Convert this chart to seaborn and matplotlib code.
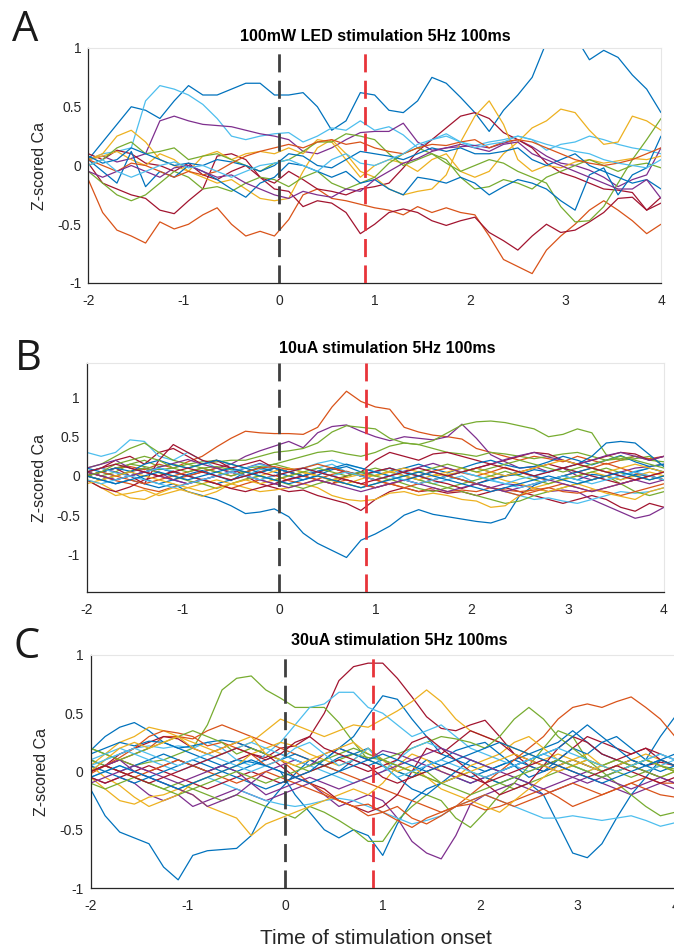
import numpy as np
import pandas as pd
import matplotlib
matplotlib.use("Agg")
import matplotlib.pyplot as plt
import seaborn as sns

# ---------------- data ----------------
TIME = [-2.0, -1.85, -1.7, -1.55, -1.4, -1.25, -1.1, -0.95, -0.8, -0.65, -0.5,
        -0.35, -0.2, -0.05, 0.1, 0.25, 0.4, 0.55, 0.7, 0.85, 1.0, 1.15, 1.3,
        1.45, 1.6, 1.75, 1.9, 2.05, 2.2, 2.35, 2.5, 2.65, 2.8, 2.95, 3.1, 3.25,
        3.4, 3.55, 3.7, 3.85, 4.0]
XTICKS = [-2, -1, 0, 1, 2, 3, 4]
YTICKS = [-1, -0.5, 0, 0.5, 1]
YTICKLABELS = ["-1", "-0.5", "0", "0.5", "1"]
STIM_ONSET = 0.0
STIM_END = 0.9
TITLES = ["100mW LED stimulation 5Hz 100ms", "10uA stimulation 5Hz 100ms",
          "30uA stimulation 5Hz 100ms"]
PANEL_LETTERS = ["A", "B", "C"]

# Panel A traces
A1 = [0.05, 0.2, 0.35, 0.5, 0.47, 0.4, 0.55, 0.68, 0.6, 0.6, 0.65, 0.7, 0.7, 0.6, 0.6, 0.62, 0.5, 0.3, 0.38, 0.62, 0.6, 0.47, 0.45, 0.55, 0.75, 0.7, 0.58, 0.45, 0.29, 0.47, 0.6, 0.75, 1.05, 1.25, 1.1, 0.9, 0.98, 0.92, 0.77, 0.65, 0.45]
A2 = [0.05, 0.1, 0.12, 0.15, 0.55, 0.68, 0.65, 0.6, 0.52, 0.4, 0.25, 0.22, 0.25, 0.27, 0.28, 0.2, 0.25, 0.32, 0.3, 0.38, 0.3, 0.33, 0.26, 0.15, 0.22, 0.27, 0.2, 0.17, 0.2, 0.22, 0.25, 0.22, 0.13, 0.18, 0.2, 0.25, 0.22, 0.18, 0.15, 0.13, 0.1]
A3 = [0.05, 0.08, 0.03, 0.06, 0.1, 0.38, 0.42, 0.38, 0.35, 0.34, 0.33, 0.3, 0.27, 0.25, 0.22, 0.12, 0.1, 0.15, 0.22, 0.28, 0.29, 0.29, 0.36, 0.2, 0.13, 0.15, 0.16, 0.17, 0.15, 0.19, 0.22, 0.16, 0.08, 0.02, 0.0, -0.04, -0.1, -0.18, -0.12, -0.08, 0.15]
A4 = [-0.12, -0.4, -0.55, -0.6, -0.66, -0.48, -0.54, -0.5, -0.42, -0.36, -0.5, -0.6, -0.56, -0.6, -0.46, -0.25, -0.2, -0.28, -0.3, -0.33, -0.36, -0.38, -0.42, -0.35, -0.4, -0.36, -0.4, -0.42, -0.6, -0.8, -0.86, -0.92, -0.72, -0.6, -0.5, -0.38, -0.3, -0.38, -0.47, -0.58, -0.5]
A5 = [0.02, -0.15, -0.2, -0.25, -0.28, -0.38, -0.41, -0.3, -0.2, 0.08, 0.1, 0.05, -0.1, -0.2, -0.22, -0.35, -0.3, -0.32, -0.4, -0.58, -0.5, -0.4, -0.37, -0.4, -0.47, -0.51, -0.47, -0.44, -0.57, -0.64, -0.72, -0.6, -0.5, -0.57, -0.55, -0.48, -0.4, -0.28, -0.27, -0.38, -0.32]
A6 = [0.1, 0.05, 0.13, 0.1, 0.02, 0.0, -0.05, 0.02, -0.08, -0.12, -0.05, 0.0, -0.1, -0.15, -0.05, -0.12, -0.2, -0.22, -0.25, -0.2, -0.18, -0.15, -0.02, 0.12, 0.22, 0.32, 0.42, 0.45, 0.4, 0.28, 0.22, 0.15, 0.02, -0.06, -0.1, -0.15, -0.2, -0.21, -0.23, -0.38, -0.27]
A7 = [0.05, 0.1, 0.25, 0.3, 0.2, 0.05, 0.0, -0.05, -0.1, -0.15, -0.12, -0.2, -0.28, -0.3, -0.28, -0.05, 0.15, 0.22, 0.1, -0.05, -0.1, -0.2, -0.25, -0.22, -0.2, -0.08, 0.2, 0.42, 0.55, 0.35, 0.05, -0.05, 0.0, -0.02, 0.03, 0.05, 0.02, 0.04, 0.06, 0.05, 0.08]
A8 = [0.05, 0.08, 0.12, 0.05, 0.0, 0.1, 0.05, -0.05, 0.08, 0.12, 0.05, 0.1, 0.12, 0.1, 0.15, 0.1, 0.22, 0.2, 0.05, -0.1, 0.0, 0.05, 0.02, -0.05, 0.05, 0.1, -0.05, -0.1, -0.05, 0.1, 0.2, 0.32, 0.38, 0.48, 0.45, 0.3, 0.18, 0.2, 0.42, 0.38, 0.3]
A9 = [0.0, 0.05, 0.15, 0.2, 0.1, 0.12, 0.15, 0.05, 0.08, 0.1, 0.05, 0.0, -0.05, 0.02, 0.05, 0.12, 0.2, 0.2, 0.27, 0.25, 0.22, 0.1, 0.0, 0.05, 0.1, 0.02, -0.05, 0.0, 0.05, 0.02, -0.05, -0.1, -0.15, -0.35, -0.48, -0.47, -0.35, -0.15, 0.05, 0.22, 0.4]
A10 = [-0.05, -0.15, -0.25, -0.3, -0.25, -0.15, -0.05, -0.1, -0.2, -0.18, -0.22, -0.15, -0.1, -0.12, -0.18, -0.1, -0.05, -0.15, -0.2, -0.15, -0.1, 0.02, 0.1, 0.15, 0.1, 0.05, -0.1, -0.2, -0.18, -0.12, -0.15, -0.2, -0.1, -0.05, 0.0, 0.05, 0.0, -0.05, 0.0, 0.02, -0.02]
A11 = [0.05, -0.05, -0.15, 0.12, -0.18, -0.05, -0.1, 0.0, -0.05, -0.12, -0.2, -0.27, -0.15, -0.1, 0.02, 0.0, -0.05, -0.1, -0.05, -0.15, -0.12, -0.2, -0.25, -0.1, -0.12, -0.15, -0.1, -0.15, -0.25, -0.18, -0.12, -0.15, -0.2, -0.3, -0.38, -0.08, -0.02, -0.25, -0.08, -0.02, 0.25]
A12 = [0.08, 0.02, 0.05, 0.15, 0.1, 0.05, 0.0, 0.02, 0.0, 0.05, 0.03, 0.0, -0.05, 0.0, 0.1, 0.08, 0.0, -0.02, 0.05, 0.12, 0.1, 0.08, 0.05, 0.1, 0.15, 0.12, 0.15, 0.1, 0.1, 0.12, 0.15, 0.05, 0.0, 0.05, 0.1, 0.0, -0.05, -0.1, -0.15, -0.12, -0.2]
A13 = [0.05, 0.0, -0.05, 0.02, 0.0, -0.05, -0.1, -0.05, -0.08, -0.05, 0.02, 0.08, 0.12, 0.15, 0.18, 0.15, 0.2, 0.22, 0.18, 0.2, 0.15, 0.12, 0.1, 0.15, 0.18, 0.17, 0.2, 0.22, 0.15, 0.2, 0.22, 0.2, 0.15, 0.1, 0.05, 0.02, 0.0, 0.02, 0.05, 0.1, 0.15]
A14 = [-0.05, -0.1, -0.05, 0.0, -0.05, -0.1, -0.02, 0.0, -0.05, -0.1, -0.08, -0.15, -0.2, -0.25, -0.28, -0.22, -0.25, -0.27, -0.2, -0.22, -0.12, -0.05, 0.02, 0.06, 0.12, 0.15, 0.18, 0.15, 0.12, 0.18, 0.2, 0.1, 0.05, 0.0, -0.05, -0.1, -0.15, -0.2, -0.2, -0.12, -0.28]
A15 = [0.0, 0.05, -0.05, -0.1, -0.05, 0.0, 0.03, -0.02, 0.0, -0.05, -0.1, -0.05, 0.0, 0.02, 0.05, 0.0, -0.05, 0.05, 0.1, 0.02, 0.0, 0.05, 0.1, 0.18, 0.22, 0.25, 0.2, 0.15, 0.18, 0.2, 0.25, 0.22, 0.18, 0.15, 0.12, 0.1, 0.05, 0.02, 0.0, -0.02, 0.05]

# Panel B traces
B1 = [0.0, 0.05, 0.1, 0.12, 0.08, 0.15, 0.1, 0.18, 0.25, 0.37, 0.48, 0.57, 0.55, 0.54, 0.54, 0.53, 0.62, 0.88, 1.08, 0.95, 0.88, 0.85, 0.62, 0.56, 0.52, 0.5, 0.47, 0.35, 0.3, 0.25, 0.2, 0.25, 0.22, 0.18, 0.25, 0.2, 0.15, 0.2, 0.25, 0.22, 0.25]
B2 = [0.0, -0.05, -0.1, -0.05, -0.1, -0.15, -0.1, -0.2, -0.25, -0.3, -0.38, -0.48, -0.46, -0.42, -0.52, -0.73, -0.86, -0.95, -1.04, -0.82, -0.74, -0.64, -0.5, -0.43, -0.49, -0.52, -0.55, -0.58, -0.6, -0.54, -0.25, -0.12, -0.05, 0.0, -0.05, 0.02, 0.0, -0.05, 0.02, 0.0, -0.05]
B3 = [0.05, 0.1, 0.05, 0.0, 0.05, 0.1, 0.05, 0.0, 0.05, 0.1, 0.15, 0.25, 0.32, 0.38, 0.44, 0.36, 0.55, 0.63, 0.65, 0.57, 0.5, 0.45, 0.5, 0.48, 0.46, 0.5, 0.66, 0.48, 0.27, 0.18, 0.1, 0.12, 0.05, 0.1, 0.0, -0.05, 0.0, 0.05, 0.1, 0.12, 0.15]
B4 = [0.05, 0.0, 0.05, 0.15, 0.2, 0.12, 0.15, 0.1, 0.15, 0.18, 0.2, 0.2, 0.25, 0.3, 0.32, 0.35, 0.42, 0.56, 0.64, 0.62, 0.6, 0.48, 0.42, 0.4, 0.45, 0.55, 0.65, 0.69, 0.7, 0.68, 0.64, 0.6, 0.5, 0.53, 0.6, 0.55, 0.27, 0.2, 0.22, 0.25, 0.12]
B5 = [0.0, 0.05, 0.1, 0.15, 0.12, 0.08, 0.1, 0.15, 0.18, 0.2, 0.15, 0.1, 0.12, 0.15, 0.2, 0.25, 0.3, 0.32, 0.28, 0.25, 0.3, 0.38, 0.42, 0.4, 0.35, 0.3, 0.28, 0.25, 0.3, 0.28, 0.25, 0.22, 0.25, 0.28, 0.3, 0.25, 0.2, 0.22, 0.25, 0.2, 0.18]
B6 = [0.05, 0.1, 0.2, 0.25, 0.15, 0.3, 0.35, 0.25, 0.15, 0.2, 0.1, 0.0, -0.1, -0.15, -0.2, -0.18, -0.25, -0.3, -0.35, -0.44, -0.3, -0.2, -0.15, -0.2, -0.18, -0.22, -0.2, -0.25, -0.2, -0.15, -0.2, -0.25, -0.3, -0.35, -0.3, -0.25, -0.3, -0.4, -0.45, -0.35, -0.4]
B7 = [0.05, 0.0, -0.05, 0.0, 0.05, 0.1, 0.05, 0.0, -0.05, -0.1, -0.05, 0.0, 0.05, 0.1, 0.05, 0.0, 0.05, 0.1, 0.05, 0.02, 0.05, 0.1, 0.05, 0.0, -0.05, 0.0, 0.05, 0.1, 0.05, 0.0, 0.02, 0.08, 0.05, 0.1, 0.15, 0.25, 0.42, 0.44, 0.42, 0.27, 0.12]
B8 = [0.0, -0.05, 0.0, 0.05, 0.1, 0.05, -0.05, -0.1, -0.05, 0.0, 0.05, 0.0, -0.05, -0.1, -0.05, 0.0, 0.05, 0.0, -0.05, -0.1, -0.15, -0.1, -0.05, -0.1, -0.05, 0.0, -0.05, -0.1, -0.15, -0.1, -0.12, -0.15, -0.2, -0.18, -0.2, -0.3, -0.38, -0.46, -0.54, -0.5, -0.4]
B9 = [0.3, 0.25, 0.3, 0.46, 0.44, 0.25, 0.2, 0.3, 0.2, 0.1, 0.05, 0.0, 0.08, 0.1, 0.05, 0.0, 0.1, 0.15, 0.05, 0.0, 0.05, 0.1, 0.0, -0.05, -0.1, -0.05, 0.0, -0.1, -0.15, -0.2, -0.25, -0.3, -0.28, -0.32, -0.35, -0.3, -0.25, -0.2, -0.22, -0.2, -0.15]
B10 = [0.1, 0.15, 0.25, 0.35, 0.42, 0.3, 0.2, 0.15, 0.1, 0.12, 0.08, 0.05, 0.1, 0.15, 0.1, 0.05, 0.0, -0.05, 0.0, 0.05, 0.1, 0.05, 0.0, -0.05, -0.1, -0.15, -0.2, -0.25, -0.3, -0.35, -0.32, -0.25, -0.2, -0.15, -0.1, -0.05, 0.0, -0.1, -0.2, -0.25, -0.2]
B11 = [0.0, 0.05, 0.1, 0.0, -0.1, 0.2, 0.4, 0.3, 0.2, 0.15, 0.1, 0.15, 0.2, 0.1, 0.05, 0.0, -0.05, -0.1, 0.0, 0.05, 0.2, 0.3, 0.25, 0.2, 0.28, 0.3, 0.25, 0.2, 0.15, 0.2, 0.25, 0.3, 0.28, 0.2, 0.15, 0.2, 0.25, 0.3, 0.28, 0.2, 0.25]
B12 = [-0.05, -0.15, -0.25, -0.22, -0.18, -0.25, -0.2, -0.15, -0.1, -0.05, -0.1, -0.15, -0.2, -0.18, -0.15, -0.1, -0.15, -0.25, -0.3, -0.32, -0.3, -0.22, -0.2, -0.25, -0.22, -0.25, -0.3, -0.32, -0.4, -0.38, -0.25, -0.15, -0.1, -0.05, 0.0, 0.05, 0.0, -0.05, 0.0, 0.05, 0.0]
B13 = [0.05, 0.0, -0.05, 0.0, 0.05, 0.0, -0.05, 0.0, 0.05, 0.1, 0.05, 0.0, 0.05, 0.1, 0.05, 0.0, -0.05, -0.1, -0.05, -0.1, -0.15, -0.1, -0.15, -0.2, -0.15, -0.2, -0.18, -0.2, -0.15, -0.18, -0.2, -0.18, -0.15, -0.2, -0.22, -0.18, -0.2, -0.25, -0.2, -0.15, -0.1]
B14 = [0.0, 0.05, 0.1, 0.06, -0.04, -0.1, -0.05, 0.02, 0.07, 0.0, -0.06, 0.05, 0.11, 0.05, 0.0, -0.05, 0.01, 0.08, 0.12, 0.05, 0.0, 0.06, 0.1, 0.15, 0.09, 0.04, 0.1, 0.16, 0.2, 0.14, 0.1, 0.12, 0.18, 0.25, 0.2, 0.14, 0.2, 0.26, 0.18, 0.12, 0.15]
B15 = [0.05, 0.0, -0.06, -0.1, -0.16, -0.2, -0.14, -0.1, -0.04, -0.1, -0.16, -0.1, -0.05, 0.01, -0.06, -0.1, -0.04, 0.02, 0.06, 0.0, -0.05, -0.11, -0.05, 0.0, 0.06, 0.1, 0.04, 0.0, 0.05, 0.11, 0.05, -0.01, -0.06, 0.0, 0.05, 0.1, 0.16, 0.1, 0.04, 0.0, 0.05]
B16 = [-0.05, -0.1, -0.2, -0.28, -0.3, -0.22, -0.15, -0.2, -0.26, -0.2, -0.1, -0.05, 0.0, 0.06, 0.1, 0.04, 0.0, -0.06, -0.1, -0.04, 0.01, 0.06, 0.0, -0.05, 0.01, 0.05, 0.1, 0.05, 0.0, -0.06, -0.1, -0.16, -0.2, -0.15, -0.1, -0.16, -0.22, -0.26, -0.3, -0.2, -0.15]
B17 = [0.1, 0.15, 0.2, 0.1, 0.05, 0.11, 0.16, 0.21, 0.15, 0.1, 0.04, 0.1, 0.16, 0.1, 0.05, 0.0, 0.06, 0.1, 0.04, 0.0, -0.05, 0.0, 0.06, 0.11, 0.16, 0.1, 0.05, 0.1, 0.15, 0.21, 0.26, 0.3, 0.24, 0.2, 0.15, 0.2, 0.26, 0.3, 0.25, 0.2, 0.25]
B18 = [0.0, -0.05, 0.0, 0.06, 0.1, 0.04, 0.0, -0.06, -0.1, -0.16, -0.1, -0.04, 0.0, -0.05, -0.11, -0.16, -0.1, -0.05, -0.1, -0.15, -0.1, -0.04, -0.1, -0.16, -0.2, -0.15, -0.1, -0.05, 0.0, 0.06, 0.0, -0.05, -0.1, -0.04, 0.0, 0.05, 0.1, 0.04, 0.0, -0.05, 0.0]
B19 = [0.05, 0.1, 0.04, 0.0, 0.05, 0.1, 0.06, 0.0, -0.05, 0.0, 0.06, 0.1, 0.15, 0.1, 0.05, 0.1, 0.16, 0.2, 0.14, 0.1, 0.05, 0.0, 0.06, 0.0, -0.05, 0.0, 0.05, 0.0, -0.06, -0.1, -0.04, 0.0, 0.06, 0.1, 0.05, 0.0, -0.05, 0.0, 0.06, 0.1, 0.05]
B20 = [-0.05, -0.15, -0.2, -0.14, -0.05, 0.0, 0.06, 0.0, -0.05, -0.1, -0.16, -0.2, -0.15, -0.1, -0.04, 0.0, 0.05, 0.1, 0.05, 0.0, 0.06, 0.1, 0.04, 0.0, -0.06, -0.1, -0.16, -0.1, -0.04, 0.0, 0.05, 0.1, 0.15, 0.1, 0.05, 0.0, -0.05, -0.1, -0.05, 0.0, -0.05]
B21 = [0.1, 0.05, 0.0, 0.05, 0.15, 0.2, 0.14, 0.1, 0.15, 0.2, 0.15, 0.1, 0.04, 0.1, 0.05, 0.0, 0.06, 0.1, 0.15, 0.1, 0.05, 0.0, -0.06, 0.0, 0.05, 0.0, -0.05, -0.1, -0.05, 0.0, 0.06, 0.0, -0.05, 0.0, 0.05, 0.1, 0.05, 0.0, 0.05, 0.1, 0.05]
B22 = [0.0, 0.05, 0.0, -0.05, -0.1, -0.05, 0.0, 0.05, 0.1, 0.05, 0.0, 0.05, 0.1, 0.12, 0.08, 0.1, 0.15, 0.1, 0.05, 0.0, -0.05, -0.1, -0.15, -0.1, -0.05, 0.0, -0.05, -0.1, -0.15, -0.2, -0.25, -0.2, -0.15, -0.1, -0.15, -0.2, -0.15, -0.1, -0.05, 0.0, -0.05]
B23 = [-0.1, -0.05, 0.0, 0.05, 0.0, -0.05, -0.1, -0.15, -0.2, -0.15, -0.1, -0.05, -0.1, -0.05, 0.0, 0.05, 0.0, -0.05, -0.02, 0.02, 0.0, 0.05, 0.1, 0.05, 0.0, 0.02, 0.05, 0.1, 0.05, 0.0, 0.05, 0.1, 0.15, 0.2, 0.15, 0.1, 0.05, 0.1, 0.15, 0.1, 0.05]
B24 = [0.05, 0.0, -0.05, 0.0, 0.05, 0.0, -0.05, -0.1, -0.05, 0.0, 0.05, 0.0, -0.05, -0.1, -0.15, -0.1, -0.05, -0.1, -0.15, -0.2, -0.15, -0.1, -0.05, -0.1, -0.15, -0.2, -0.15, -0.1, -0.15, -0.2, -0.15, -0.1, -0.05, -0.1, -0.15, -0.2, -0.15, -0.1, -0.05, -0.1, -0.05]
B25 = [0.0, 0.05, 0.15, 0.2, 0.25, 0.2, 0.1, 0.05, 0.1, 0.05, 0.0, 0.05, 0.0, -0.05, 0.0, 0.05, 0.1, 0.05, 0.0, 0.05, 0.0, -0.05, 0.0, 0.05, 0.1, 0.15, 0.1, 0.05, 0.1, 0.15, 0.2, 0.15, 0.1, 0.05, 0.1, 0.15, 0.2, 0.25, 0.2, 0.15, 0.1]
B26 = [-0.05, -0.1, -0.05, 0.0, -0.05, -0.1, -0.15, -0.1, -0.05, 0.0, 0.05, 0.0, -0.05, 0.0, 0.05, 0.1, 0.05, 0.0, 0.05, 0.0, -0.05, 0.0, -0.05, -0.1, -0.05, 0.0, 0.05, 0.0, -0.05, -0.1, -0.15, -0.1, -0.05, 0.0, -0.05, -0.1, -0.05, 0.0, 0.05, 0.0, -0.05]
B27 = [0.05, 0.1, 0.15, 0.1, 0.05, 0.0, 0.05, 0.1, 0.05, 0.0, -0.05, 0.0, 0.05, 0.0, 0.05, 0.1, 0.05, 0.0, -0.05, -0.1, -0.05, 0.0, 0.05, 0.1, 0.05, 0.0, 0.05, 0.1, 0.15, 0.1, 0.05, 0.0, 0.05, 0.1, 0.15, 0.1, 0.05, 0.0, -0.05, 0.0, 0.05]
B28 = [0.0, -0.05, -0.1, -0.05, 0.0, 0.05, 0.0, -0.05, 0.0, 0.05, 0.1, 0.05, 0.0, -0.05, -0.1, -0.05, 0.0, -0.05, -0.1, -0.15, -0.1, -0.05, 0.0, 0.05, 0.0, -0.05, -0.1, -0.15, -0.2, -0.15, -0.1, -0.05, 0.0, -0.05, -0.1, -0.05, 0.0, 0.05, 0.0, -0.05, 0.0]

# Panel C traces
C1 = [0.0, 0.05, 0.1, 0.05, 0.0, 0.05, 0.1, 0.05, 0.0, 0.05, 0.1, 0.15, 0.12, 0.2, 0.22, 0.3, 0.5, 0.78, 0.9, 0.93, 0.93, 0.8, 0.64, 0.47, 0.37, 0.35, 0.4, 0.44, 0.3, 0.15, 0.05, 0.0, 0.05, 0.1, 0.05, 0.0, 0.05, 0.1, 0.05, 0.08, 0.05]
C2 = [0.2, 0.15, 0.1, 0.05, 0.08, 0.1, 0.15, 0.2, 0.4, 0.7, 0.8, 0.82, 0.7, 0.63, 0.55, 0.55, 0.55, 0.42, 0.25, 0.1, 0.05, 0.0, -0.05, 0.0, -0.1, -0.05, 0.0, -0.05, -0.1, -0.15, -0.1, -0.05, 0.0, 0.05, 0.1, 0.05, 0.0, -0.05, 0.0, 0.05, 0.02]
C3 = [-0.15, -0.38, -0.52, -0.57, -0.62, -0.82, -0.93, -0.72, -0.68, -0.67, -0.66, -0.55, -0.3, -0.15, -0.02, 0.1, 0.05, 0.0, 0.1, 0.05, 0.1, 0.05, 0.0, 0.1, 0.05, 0.0, -0.05, 0.0, 0.05, 0.1, 0.05, 0.0, 0.05, 0.1, 0.05, 0.0, 0.05, 0.1, 0.05, 0.0, 0.05]
C4 = [0.1, 0.05, 0.0, 0.05, 0.1, 0.15, 0.1, 0.05, 0.0, 0.05, 0.1, 0.08, 0.05, 0.0, -0.2, -0.35, -0.5, -0.57, -0.5, -0.55, -0.72, -0.45, -0.25, -0.15, -0.1, -0.05, -0.1, -0.05, -0.1, -0.05, -0.1, -0.2, -0.45, -0.7, -0.74, -0.62, -0.4, -0.2, -0.05, 0.1, 0.05]
C5 = [0.18, 0.3, 0.38, 0.42, 0.35, 0.25, 0.2, 0.15, 0.1, 0.05, 0.0, 0.05, 0.1, 0.15, 0.1, 0.05, 0.1, 0.2, 0.3, 0.48, 0.65, 0.62, 0.45, 0.3, 0.15, 0.1, 0.05, 0.0, 0.05, 0.1, 0.15, 0.2, 0.25, 0.35, 0.25, 0.15, 0.1, 0.05, 0.1, 0.3, 0.47]
C6 = [0.0, 0.1, 0.15, 0.2, 0.22, 0.2, 0.22, 0.2, 0.25, 0.2, 0.1, 0.05, 0.15, 0.25, 0.4, 0.55, 0.58, 0.68, 0.68, 0.55, 0.5, 0.4, 0.3, 0.35, 0.4, 0.3, 0.2, 0.15, 0.1, 0.05, 0.0, 0.05, 0.1, 0.05, 0.0, 0.05, 0.1, 0.05, 0.0, 0.05, 0.1]
C7 = [0.05, 0.15, 0.25, 0.3, 0.38, 0.35, 0.3, 0.25, 0.2, 0.15, 0.2, 0.25, 0.35, 0.45, 0.4, 0.35, 0.3, 0.35, 0.4, 0.38, 0.45, 0.52, 0.6, 0.7, 0.6, 0.45, 0.35, 0.3, 0.25, 0.2, 0.15, 0.1, 0.15, 0.1, 0.05, 0.0, 0.05, 0.1, 0.15, 0.1, 0.05]
C8 = [0.0, 0.05, 0.1, 0.15, 0.2, 0.3, 0.3, 0.28, 0.35, 0.4, 0.35, 0.3, 0.25, 0.2, 0.15, 0.1, 0.05, 0.0, -0.05, -0.1, -0.15, -0.2, -0.25, -0.3, -0.35, -0.3, -0.2, -0.1, 0.0, 0.1, 0.2, 0.3, 0.45, 0.55, 0.58, 0.55, 0.6, 0.64, 0.55, 0.45, 0.3]
C9 = [-0.05, -0.1, -0.05, -0.1, -0.2, -0.25, -0.2, -0.3, -0.25, -0.2, -0.15, -0.2, -0.25, -0.2, -0.15, -0.1, -0.2, -0.3, -0.25, -0.2, -0.25, -0.4, -0.6, -0.7, -0.75, -0.55, -0.28, -0.2, -0.15, -0.1, -0.15, -0.2, -0.15, -0.1, -0.05, -0.1, -0.15, -0.2, -0.15, -0.1, -0.15]
C10 = [0.1, 0.05, 0.0, -0.05, -0.1, -0.15, -0.1, -0.15, -0.2, -0.25, -0.2, -0.25, -0.3, -0.35, -0.4, -0.3, -0.35, -0.42, -0.5, -0.6, -0.6, -0.42, -0.3, -0.2, -0.25, -0.4, -0.48, -0.35, -0.2, -0.1, 0.05, 0.2, 0.35, 0.3, 0.1, 0.0, -0.1, -0.2, -0.3, -0.38, -0.35]
C11 = [-0.05, 0.0, 0.05, 0.0, -0.05, -0.1, -0.15, -0.1, -0.05, -0.1, -0.15, -0.2, -0.25, -0.28, -0.3, -0.28, -0.25, -0.23, -0.25, -0.3, -0.35, -0.4, -0.45, -0.42, -0.38, -0.3, -0.25, -0.2, -0.25, -0.3, -0.35, -0.4, -0.4, -0.38, -0.4, -0.42, -0.4, -0.38, -0.42, -0.47, -0.44]
C12 = [-0.05, -0.15, -0.25, -0.28, -0.22, -0.2, -0.15, -0.2, -0.3, -0.35, -0.4, -0.55, -0.45, -0.4, -0.35, -0.3, -0.25, -0.2, -0.15, -0.2, -0.1, 0.05, 0.15, 0.1, 0.0, -0.05, 0.05, 0.1, 0.15, 0.25, 0.3, 0.2, 0.1, 0.05, 0.0, 0.05, 0.1, 0.05, 0.0, -0.05, 0.0]
C13 = [0.0, 0.05, 0.15, 0.2, 0.25, 0.3, 0.28, 0.2, 0.15, 0.2, 0.25, 0.2, 0.15, 0.05, -0.05, -0.1, -0.15, -0.25, -0.3, -0.35, -0.3, -0.2, 0.0, 0.2, 0.15, 0.25, 0.35, 0.3, 0.25, 0.15, 0.1, 0.05, 0.1, 0.2, 0.3, 0.25, 0.2, 0.15, 0.2, 0.15, 0.1]
C14 = [0.15, 0.2, 0.25, 0.22, 0.26, 0.25, 0.2, 0.22, 0.25, 0.27, 0.25, 0.2, 0.15, 0.1, 0.15, 0.1, 0.05, 0.12, 0.15, 0.2, 0.1, 0.0, -0.05, 0.05, 0.1, 0.18, 0.22, 0.25, 0.15, 0.05, -0.05, 0.0, 0.1, 0.2, 0.15, 0.25, 0.3, 0.2, 0.1, 0.05, 0.0]
C15 = [-0.02, 0.05, 0.12, 0.2, 0.3, 0.35, 0.33, 0.3, 0.22, 0.25, 0.2, 0.15, 0.05, 0.1, 0.0, -0.1, -0.18, -0.25, -0.3, -0.38, -0.35, -0.42, -0.48, -0.4, -0.35, -0.3, -0.28, -0.33, -0.3, -0.25, -0.2, -0.15, -0.22, -0.3, -0.25, -0.2, -0.15, -0.1, -0.15, -0.2, -0.22]
C16 = [0.05, -0.05, -0.12, -0.22, -0.3, -0.25, -0.2, -0.1, -0.05, 0.0, 0.05, 0.15, 0.2, 0.25, 0.22, 0.15, 0.1, 0.05, 0.1, 0.2, 0.1, 0.0, 0.05, -0.05, -0.15, -0.2, -0.25, -0.3, -0.35, -0.25, -0.15, -0.05, 0.05, 0.1, 0.15, 0.05, 0.0, 0.05, 0.1, 0.05, 0.0]
C17 = [0.0, 0.05, 0.1, 0.0, -0.05, -0.1, -0.15, -0.2, -0.3, -0.25, -0.2, -0.1, 0.0, 0.05, 0.1, 0.05, 0.15, 0.2, 0.15, 0.1, 0.18, 0.15, 0.1, 0.05, 0.0, -0.05, -0.1, -0.05, 0.0, 0.05, 0.1, 0.05, 0.0, -0.05, -0.1, -0.05, 0.0, 0.05, 0.0, -0.05, -0.1]
C18 = [0.2, 0.15, 0.1, 0.15, 0.2, 0.25, 0.3, 0.35, 0.3, 0.25, 0.15, 0.2, 0.15, 0.1, 0.05, 0.0, 0.05, 0.1, 0.15, 0.12, 0.1, 0.15, 0.2, 0.25, 0.3, 0.28, 0.25, 0.2, 0.3, 0.45, 0.55, 0.45, 0.3, 0.2, 0.1, 0.05, 0.1, 0.05, 0.0, -0.05, 0.0]
C19 = [0.1, 0.15, 0.2, 0.15, 0.1, 0.05, 0.0, 0.05, 0.1, 0.15, 0.2, 0.25, 0.2, 0.15, 0.1, 0.05, 0.0, -0.05, -0.1, -0.05, 0.0, 0.1, 0.2, 0.25, 0.2, 0.15, 0.1, 0.05, 0.0, 0.05, 0.1, 0.15, 0.1, 0.05, 0.0, -0.05, 0.0, 0.05, 0.1, 0.15, 0.1]
C20 = [-0.05, -0.1, -0.05, 0.0, 0.05, 0.0, -0.05, -0.1, -0.15, -0.1, -0.05, 0.0, -0.05, -0.1, -0.05, 0.0, 0.05, 0.1, 0.05, 0.0, 0.05, 0.1, 0.25, 0.3, 0.2, 0.1, 0.0, -0.1, -0.2, -0.15, -0.1, 0.05, 0.2, 0.3, 0.25, 0.15, 0.1, 0.15, 0.2, 0.1, 0.05]
C21 = [0.05, 0.0, -0.05, -0.1, -0.05, 0.0, 0.05, 0.1, 0.05, 0.0, -0.05, -0.1, -0.15, -0.1, -0.05, 0.0, 0.1, 0.2, 0.15, 0.1, 0.05, -0.05, -0.15, -0.2, -0.1, 0.0, 0.1, 0.05, 0.0, 0.05, 0.1, 0.15, 0.2, 0.3, 0.4, 0.3, 0.2, 0.1, 0.05, 0.1, 0.15]
C22 = [0.0, 0.05, 0.0, -0.05, 0.0, 0.05, 0.1, 0.05, 0.0, -0.05, -0.1, -0.05, 0.0, -0.05, -0.1, -0.15, -0.2, -0.25, -0.3, -0.28, -0.35, -0.3, -0.4, -0.45, -0.38, -0.3, -0.25, -0.2, -0.25, -0.3, -0.25, -0.2, -0.15, -0.1, -0.15, -0.2, -0.15, -0.1, -0.05, -0.1, -0.1]
C23 = [0.0, 0.1, 0.2, 0.25, 0.2, 0.25, 0.3, 0.2, 0.15, 0.2, 0.25, 0.3, 0.15, 0.1, 0.05, 0.1, 0.15, 0.2, 0.25, 0.15, 0.1, 0.05, 0.0, -0.05, -0.1, -0.05, 0.0, 0.05, 0.1, 0.15, 0.1, 0.05, 0.0, 0.05, 0.1, 0.05, 0.0, 0.05, 0.1, 0.05, 0.0]
C24 = [-0.1, -0.05, 0.0, 0.05, 0.0, -0.05, -0.1, -0.05, 0.0, 0.05, 0.0, -0.1, -0.2, -0.15, -0.1, -0.05, -0.1, -0.15, -0.1, -0.05, 0.0, 0.05, 0.1, 0.15, 0.2, 0.15, 0.1, 0.05, 0.0, -0.05, -0.1, -0.15, -0.1, -0.05, 0.0, -0.05, -0.1, -0.15, -0.1, -0.05, -0.1]
C25 = [-0.1, -0.15, -0.1, -0.05, -0.1, -0.15, -0.2, -0.15, -0.1, -0.05, 0.0, -0.05, -0.1, -0.05, 0.0, 0.05, 0.1, 0.15, 0.2, 0.15, 0.1, 0.05, 0.0, -0.05, -0.1, -0.15, -0.2, -0.15, -0.1, -0.05, 0.0, 0.05, 0.1, 0.05, 0.0, -0.05, 0.0, 0.05, 0.1, 0.05, 0.0]
C26 = [0.05, 0.1, 0.15, 0.2, 0.15, 0.1, 0.05, 0.1, 0.15, 0.1, 0.05, 0.0, 0.05, 0.1, 0.2, 0.25, 0.15, 0.05, 0.1, 0.2, 0.05, -0.05, 0.0, 0.05, 0.1, 0.05, 0.0, -0.05, 0.0, 0.05, 0.1, 0.15, 0.2, 0.15, 0.1, 0.05, 0.0, 0.05, 0.1, 0.15, 0.1]
C27 = [0.0, 0.05, 0.0, -0.05, -0.1, -0.05, 0.0, 0.05, 0.1, 0.15, 0.2, 0.15, 0.1, 0.15, 0.25, 0.3, 0.2, 0.15, 0.1, 0.05, -0.05, -0.1, -0.05, 0.0, 0.05, 0.0, -0.05, -0.1, -0.05, 0.0, 0.05, 0.1, 0.05, 0.0, -0.05, 0.0, 0.05, 0.0, -0.05, -0.1, -0.05]
C28 = [-0.05, 0.0, 0.05, 0.0, -0.05, -0.1, -0.15, -0.1, -0.05, 0.0, 0.05, 0.1, 0.05, 0.0, -0.05, -0.1, -0.05, 0.0, 0.05, 0.1, 0.15, 0.1, 0.05, 0.0, 0.05, 0.1, 0.15, 0.2, 0.25, 0.2, 0.15, 0.1, 0.05, 0.0, -0.05, -0.1, -0.05, 0.0, 0.05, 0.1, 0.05]

PANEL_A = [A1, A2, A3, A4, A5, A6, A7, A8, A9, A10, A11, A12, A13, A14, A15]
PANEL_B = [B1, B2, B3, B4, B5, B6, B7, B8, B9, B10, B11, B12, B13, B14, B15,
           B16, B17, B18, B19, B20, B21, B22, B23, B24, B25, B26, B27, B28]
PANEL_C = [C1, C2, C3, C4, C5, C6, C7, C8, C9, C10, C11, C12, C13, C14, C15,
           C16, C17, C18, C19, C20, C21, C22, C23, C24, C25, C26, C27, C28]

# ---------------- style ----------------
M = ["#0072BD", "#D95319", "#EDB120", "#7E2F8E", "#77AC30", "#4DBEEE", "#A2142F"]
COL_A = [M[0], M[5], M[3], M[1], M[6], M[6], M[2], M[2], M[4], M[4], M[0], M[0], M[1], M[3], M[5]]
COL_B = [M[1], M[0], M[3], M[4], M[4], M[6], M[0], M[3], M[5], M[4], M[6], M[2], M[1]] + \
        [M[i % 7] for i in range(15)]
COL_C = [M[6], M[4], M[0], M[0], M[0], M[5], M[2], M[1], M[3], M[4], M[5], M[2], M[6],
         M[0], M[1], M[2], M[3], M[4], M[5], M[6], M[0], M[1], M[2], M[3], M[4], M[5], M[6], M[0]]

sns.set_style("white")
plt.rcParams["font.family"] = ["Liberation Sans", "DejaVu Sans"]

W, H = 674, 951
fig = plt.figure(figsize=(W / 100, H / 100), dpi=100)

# axes boxes in pixels: left, right, top, bottom
boxes = [(88.3, 661.0, 48, 283), (86.7, 664.0, 363, 592), (90.5, 675.0, 655, 888)]
ylims = [(-1, 1), (-1.48, 1.44), (-1, 1)]
title_pos = [(375, 41), (387, 353), (399, 645)]
letter_pos = [(12, 41), (15, 370), (13, 658)]
ylabel_x = [40, 40, 42]

panels = [PANEL_A, PANEL_B, PANEL_C]
colors = [COL_A, COL_B, COL_C]

for i in range(3):
    l, r, tp, bt = boxes[i]
    ax = fig.add_axes([l / W, 1 - bt / H, (r - l) / W, (bt - tp) / H])
    rows = []
    for k, tr in enumerate(panels[i]):
        for tt, zz in zip(TIME, tr):
            rows.append((f"trace{k:02d}", tt, zz))
    df = pd.DataFrame(rows, columns=["trace", "time", "z"])
    sns.lineplot(data=df, x="time", y="z", hue="trace", palette=colors[i],
                 estimator=None, sort=False, legend=False, linewidth=0.9, ax=ax)
    ax.axvline(STIM_ONSET, color="#3f3f3f", lw=2.0, dashes=(6.5, 3), zorder=5)
    ax.axvline(STIM_END, color="#e8343a", lw=2.0, dashes=(6.5, 3), zorder=5)
    ax.set_xlim(-2, 4)
    ax.set_ylim(*ylims[i])
    ax.set_xticks(XTICKS)
    ax.set_xticklabels([str(v) for v in XTICKS])
    ax.set_yticks(YTICKS)
    ax.set_yticklabels(YTICKLABELS)
    ax.set_xlabel("")
    ax.set_ylabel("")
    ax.tick_params(direction="in", length=4, width=0.8, colors="#262626",
                   labelsize=10)
    ax.tick_params(axis="x", pad=8)
    ax.tick_params(axis="y", pad=5)
    for s in ["left", "bottom"]:
        ax.spines[s].set_color("#262626")
        ax.spines[s].set_linewidth(0.9)
    for s in ["top", "right"]:
        ax.spines[s].set_color("#e6e6e6")
        ax.spines[s].set_linewidth(0.8)
    ax.set_facecolor("white")

    fig.text(title_pos[i][0] / W, 1 - title_pos[i][1] / H, TITLES[i],
             ha="center", va="baseline", fontsize=11.5, fontweight="bold",
             color="black")
    fig.text(letter_pos[i][0] / W, 1 - letter_pos[i][1] / H, PANEL_LETTERS[i],
             ha="left", va="baseline", fontsize=30, family=["Open Sans", "DejaVu Sans"],
             color="#1a1a1a")
    fig.text(ylabel_x[i] / W, 1 - ((tp + bt) / 2) / H, "Z-scored Ca",
             rotation=90, ha="center", va="center", fontsize=11.5, color="#262626")

fig.text(376 / W, 1 - 939 / H, "Time of stimulation onset", ha="center",
         va="center", fontsize=15, color="#262626")

fig.savefig("out.png", dpi=100, facecolor="white")
